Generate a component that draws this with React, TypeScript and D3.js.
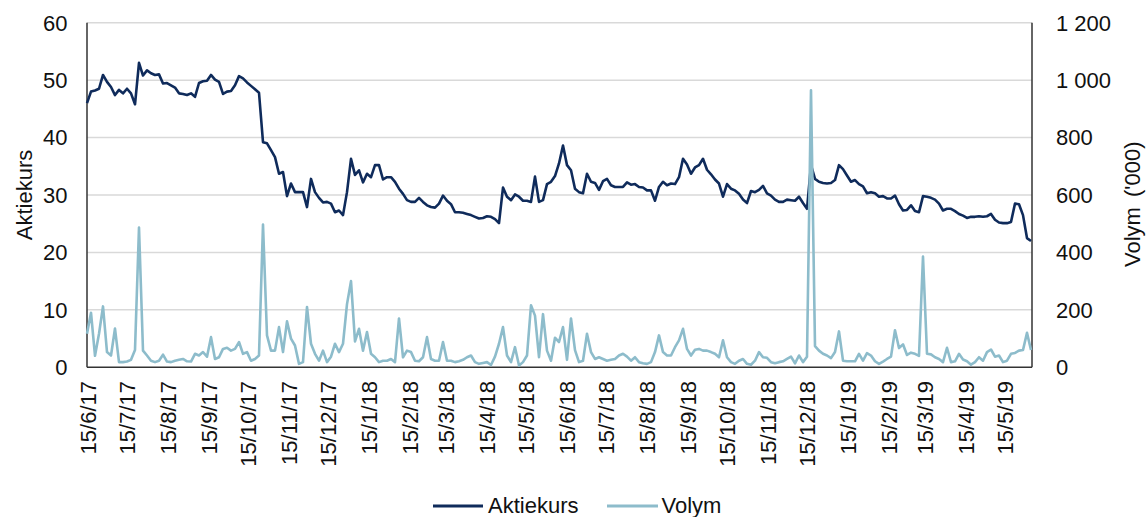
import React from "react";
import * as d3 from "d3";

// Share price (SEK) sampled roughly every third calendar day, 14 Jun 2017 - 3 Jun 2019
const price: number[] = [
  46.0, 48.0, 48.2, 48.5, 50.9, 49.7, 48.8, 47.4, 48.3, 47.7,
  48.5, 47.7, 45.8, 53.0, 50.8, 51.7, 51.2, 50.9, 51.0, 49.4,
  49.5, 49.1, 48.7, 47.7, 47.6, 47.4, 47.7, 47.1, 49.5, 49.8,
  49.9, 50.9, 50.1, 49.7, 47.6, 48.0, 48.1, 49.1, 50.7, 50.3,
  49.6, 49.0, 48.4, 47.8, 39.2, 39.0, 37.8, 36.6, 33.7, 34.0,
  29.8, 32.0, 30.5, 30.5, 30.5, 27.9, 32.8, 30.5, 29.5, 28.7,
  28.8, 28.5, 27.0, 27.3, 26.5, 30.5, 36.3, 33.5, 34.3, 32.2,
  33.7, 33.1, 35.2, 35.2, 32.7, 33.1, 33.1, 32.3, 31.1, 30.2,
  29.1, 28.8, 28.8, 29.5, 28.8, 28.2, 27.9, 27.8, 28.5, 29.9,
  29.0, 28.4, 27.0, 27.0, 26.9, 26.7, 26.5, 26.2, 25.9, 26.0,
  26.3, 26.2, 25.8, 25.1, 31.3, 29.7, 29.1, 30.1, 29.7, 29.0,
  29.0, 28.8, 33.2, 28.8, 29.1, 31.9, 32.3, 33.3, 35.5, 38.6,
  35.2, 34.3, 31.1, 30.5, 30.3, 33.7, 32.3, 32.1, 30.9, 32.4,
  32.8, 31.7, 31.4, 31.4, 31.4, 32.2, 31.8, 31.9, 31.4, 31.3,
  30.8, 30.8, 29.0, 31.4, 32.3, 31.7, 32.0, 31.9, 33.1, 36.3,
  35.3, 33.7, 34.8, 35.2, 36.3, 34.4, 33.6, 32.7, 32.0, 29.7,
  31.9, 31.1, 30.8, 30.2, 29.2, 28.6, 30.7, 30.5, 30.9, 31.6,
  30.3, 29.9, 29.2, 28.8, 28.8, 29.2, 29.1, 29.0, 29.7, 28.6,
  27.6, 35.2, 32.8, 32.3, 32.1, 32.0, 32.1, 32.6, 35.2, 34.5,
  33.4, 32.3, 32.6, 31.9, 31.5, 30.3, 30.5, 30.3, 29.7, 29.8,
  29.4, 29.4, 29.9, 28.4, 27.3, 27.4, 28.2, 27.2, 27.0, 29.8,
  29.7, 29.5, 29.2, 28.5, 27.3, 27.6, 27.6, 27.2, 26.7, 26.4,
  26.0, 26.2, 26.2, 26.3, 26.2, 26.3, 26.7, 25.7, 25.2, 25.1,
  25.1, 25.3, 28.5, 28.4, 26.5, 22.5, 22.0,
];

// Volume ('000 shares), same sampling
const volume: number[] = [
  117, 190, 40, 117, 212, 53, 41, 135, 18, 18,
  20, 26, 60, 487, 58, 41, 23, 18, 23, 44,
  20, 18, 23, 26, 29, 21, 20, 47, 41, 53,
  37, 105, 29, 35, 64, 68, 58, 64, 88, 47,
  53, 23, 29, 41, 497, 111, 58, 58, 140, 53,
  160, 100, 76, 12, 18, 210, 82, 47, 23, 58,
  18, 37, 82, 53, 82, 220, 300, 90, 134, 58,
  123, 47, 35, 18, 23, 23, 29, 18, 170, 35,
  58, 53, 23, 21, 35, 105, 29, 23, 23, 88,
  23, 23, 18, 21, 26, 35, 41, 18, 12, 15,
  18, 8, 37, 82, 140, 41, 18, 70, 6, 18,
  41, 216, 180, 35, 185, 58, 23, 103, 88, 140,
  26, 170, 60, 18, 23, 117, 53, 29, 35, 29,
  23, 26, 29, 41, 47, 37, 23, 35, 18, 14,
  12, 18, 53, 111, 53, 41, 41, 70, 94, 134,
  64, 41, 61, 64, 58, 58, 53, 47, 35, 94,
  35, 18, 12, 23, 29, 12, 9, 23, 53, 35,
  33, 18, 14, 18, 21, 29, 37, 14, 41, 18,
  37, 965, 74, 58, 47, 41, 32, 53, 125, 23,
  21, 21, 21, 47, 23, 49, 41, 21, 12, 20,
  29, 37, 129, 67, 80, 43, 51, 47, 40, 386,
  47, 45, 35, 29, 18, 68, 18, 21, 47, 27,
  21, 9, 18, 35, 23, 53, 62, 37, 41, 18,
  23, 47, 50, 58, 60, 120, 60,
];

const startDate = new Date(Date.UTC(2017, 5, 14));
const endDate = new Date(Date.UTC(2019, 5, 4));
const sampleStepDays = 3.0476;

const tickDates: Date[] = [];
for (let m = 0; m < 24; m++) tickDates.push(new Date(Date.UTC(2017, 5 + m, 15)));

const priceTicks = [0, 10, 20, 30, 40, 50, 60];
const volumeTicks = [0, 200, 400, 600, 800, 1000, 1200];

const seriesNames = ["Aktiekurs", "Volym"];
const colors = ["#0f2b5b", "#8dbccb"];

const W = 1147;
const H = 517;
const left = 87;
const right = 1032;
const top = 22.7;
const bottom = 367.3;
const FONT = "'Liberation Sans', Arial, sans-serif";

export default function App() {
  const x = d3.scaleUtc().domain([startDate, endDate]).range([left, right]);
  const yP = d3.scaleLinear().domain([0, 60]).range([bottom, top]);
  const yV = d3.scaleLinear().domain([0, 1200]).range([bottom, top]);
  const dates = price.map((_, i) => new Date(startDate.getTime() + i * sampleStepDays * 86400000));

  const priceLine = d3
    .line<number>()
    .x((_, i) => x(dates[i]))
    .y((d) => yP(d))(price) as string;
  const volumeLine = d3
    .line<number>()
    .x((_, i) => x(dates[i]))
    .y((d) => yV(d))(volume) as string;

  const fmtDate = (d: Date) => `${d.getUTCDate()}/${d.getUTCMonth() + 1}/${String(d.getUTCFullYear()).slice(2)}`;
  const fmtVol = (v: number) => (v >= 1000 ? `${Math.floor(v / 1000)} ${String(v % 1000).padStart(3, "0")}` : String(v));

  return (
    <svg
      width={W}
      height={H}
      style={{ position: "absolute", left: 0, top: 0, background: "#fff" }}
      fontFamily={FONT}
    >
      {priceTicks.slice(1).map((t) => (
        <line key={t} x1={left} x2={right} y1={yP(t)} y2={yP(t)} stroke="#d9d9d9" strokeWidth={1.5} />
      ))}
      <line x1={left} x2={left} y1={top} y2={bottom} stroke="#333" strokeWidth={1.5} />
      <line x1={right} x2={right} y1={top} y2={bottom} stroke="#333" strokeWidth={1.5} />
      <line x1={left} x2={right} y1={bottom} y2={bottom} stroke="#333" strokeWidth={1.5} />

      <path d={priceLine} fill="none" stroke={colors[0]} strokeWidth={2.6} strokeLinejoin="round" />
      <path d={volumeLine} fill="none" stroke={colors[1]} strokeWidth={2.6} strokeLinejoin="round" />

      {priceTicks.map((t) => (
        <text key={t} x={67.5} y={yP(t)} dy="0.36em" textAnchor="end" fontSize={22} fill="#111">
          {t}
        </text>
      ))}
      {volumeTicks.map((t) => (
        <text key={t} x={1056} y={yV(t)} dy="0.36em" textAnchor="start" fontSize={22} fill="#111">
          {fmtVol(t)}
        </text>
      ))}
      {tickDates.map((d) => (
        <text
          key={d.getTime()}
          transform={`translate(${x(d)},381) rotate(-90)`}
          dy="0.35em"
          textAnchor="end"
          fontSize={22}
          fill="#111"
        >
          {fmtDate(d)}
        </text>
      ))}

      <text transform="translate(32,195) rotate(-90)" textAnchor="middle" fontSize={22} fill="#111">
        Aktiekurs
      </text>
      <text transform="translate(1140,267) rotate(-90)" textAnchor="start" fontSize={22} fill="#111">
        Volym<tspan dx={10}>('000)</tspan>
      </text>

      <line x1={433} x2={483} y1={506} y2={506} stroke={colors[0]} strokeWidth={3} />
      <text x={488} y={512.5} fontSize={22} fill="#111">
        {seriesNames[0]}
      </text>
      <line x1={607} x2={658} y1={506} y2={506} stroke={colors[1]} strokeWidth={3} />
      <text x={661.5} y={512.5} fontSize={22} fill="#111">
        {seriesNames[1]}
      </text>
    </svg>
  );
}
